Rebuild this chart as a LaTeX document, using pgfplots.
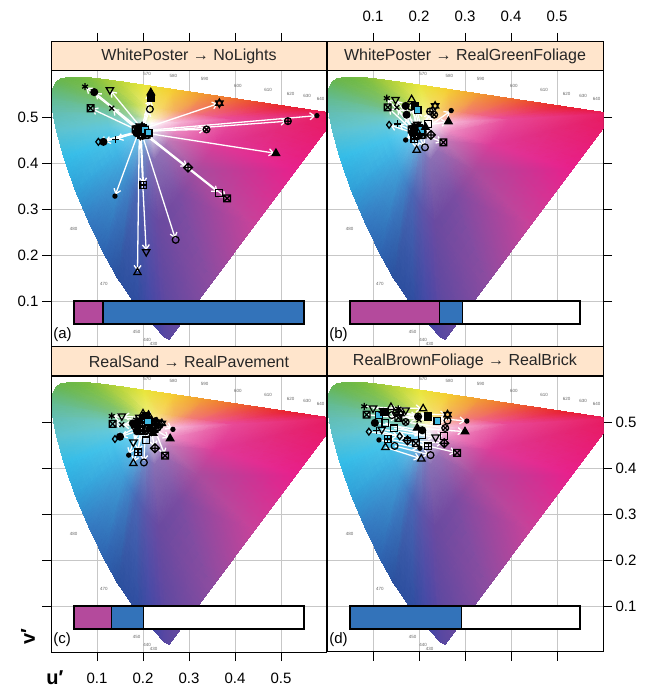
\documentclass[border=0pt]{standalone}
\usepackage{fontspec}
\setmainfont{Liberation Sans}
\usepackage{pgfplots}
\pgfplotsset{compat=1.18}
\usepackage{pgfplotstable}
\usetikzlibrary{arrows.meta}

\definecolor{stripc}{HTML}{FFE5CC}
\definecolor{barmag}{HTML}{B44A9C}
\definecolor{barblue}{HTML}{3373BA}
\definecolor{cyanfill}{HTML}{3FB8E0}
% boundary colours
\definecolor{B380}{HTML}{5A48A0}\definecolor{B430}{HTML}{5546A2}\definecolor{B440}{HTML}{4A45A3}
\definecolor{B450}{HTML}{3F47A5}\definecolor{B460}{HTML}{2E4C9F}\definecolor{B470}{HTML}{2B509E}
\definecolor{B475}{HTML}{2E63B0}\definecolor{B480}{HTML}{3478C0}\definecolor{B485}{HTML}{30A0D8}
\definecolor{B490}{HTML}{33BCE8}\definecolor{B495}{HTML}{5CC2D0}\definecolor{B500}{HTML}{63BDB0}
\definecolor{B505}{HTML}{62BA8E}\definecolor{B510}{HTML}{64B86E}\definecolor{B515}{HTML}{66B655}
\definecolor{B520}{HTML}{6AB64A}\definecolor{B530}{HTML}{6CB844}\definecolor{B540}{HTML}{78BC40}
\definecolor{B550}{HTML}{96C63C}\definecolor{B560}{HTML}{BCD63A}\definecolor{B570}{HTML}{E8E63A}
\definecolor{B580}{HTML}{F5CF30}\definecolor{B590}{HTML}{F29A30}\definecolor{B600}{HTML}{EE6A2E}
\definecolor{B610}{HTML}{EA3A2E}\definecolor{B620}{HTML}{E8202E}\definecolor{B630}{HTML}{E81C3C}
\definecolor{B640}{HTML}{E81A4C}\definecolor{B700}{HTML}{E81A5E}\definecolor{Bp1}{HTML}{E8208C}
\definecolor{Bp2}{HTML}{C8429A}\definecolor{Bp3}{HTML}{8C4CA0}
% mid ring colours
\definecolor{M380}{HTML}{6A4AA0}\definecolor{M430}{HTML}{684AA2}\definecolor{M440}{HTML}{664CA4}
\definecolor{M450}{HTML}{6250A6}\definecolor{M460}{HTML}{5A56AA}\definecolor{M470}{HTML}{4A66B4}
\definecolor{M475}{HTML}{4282C6}\definecolor{M480}{HTML}{40A0D8}\definecolor{M485}{HTML}{40B4E4}
\definecolor{M490}{HTML}{48C4EA}\definecolor{M495}{HTML}{60C8DC}\definecolor{M500}{HTML}{6CC8C4}
\definecolor{M505}{HTML}{70C4A4}\definecolor{M510}{HTML}{74C088}\definecolor{M515}{HTML}{78C078}
\definecolor{M520}{HTML}{7CC270}\definecolor{M530}{HTML}{84C468}\definecolor{M540}{HTML}{94CA60}
\definecolor{M550}{HTML}{A8D25C}\definecolor{M560}{HTML}{C8DE5C}\definecolor{M570}{HTML}{EEEC70}
\definecolor{M580}{HTML}{F6D868}\definecolor{M590}{HTML}{F4B060}\definecolor{M600}{HTML}{F28070}
\definecolor{M610}{HTML}{F06880}\definecolor{M620}{HTML}{EE5C8C}\definecolor{M630}{HTML}{EC5090}
\definecolor{M640}{HTML}{EA4A94}\definecolor{M700}{HTML}{E84896}\definecolor{Mp1}{HTML}{DE3A98}
\definecolor{Mp2}{HTML}{A84C9E}\definecolor{Mp3}{HTML}{7A4CA2}
% inner ring colours
\colorlet{I380}{M380!80!white}\colorlet{I430}{M430!80!white}\colorlet{I440}{M440!80!white}
\colorlet{I450}{M450!80!white}\colorlet{I460}{M460!80!white}\colorlet{I470}{M470!75!white}
\colorlet{I475}{M475!75!white}\colorlet{I480}{M480!75!white}\colorlet{I485}{M485!75!white}
\colorlet{I490}{M490!75!white}\colorlet{I495}{M495!75!white}\colorlet{I500}{M500!70!white}
\colorlet{I505}{M505!70!white}\colorlet{I510}{M510!70!white}\colorlet{I515}{M515!70!white}
\colorlet{I520}{M520!70!white}\colorlet{I530}{M530!70!white}\colorlet{I540}{M540!65!white}
\colorlet{I550}{M550!60!white}\colorlet{I560}{M560!55!white}\colorlet{I570}{M570!50!white}
\colorlet{I580}{M580!50!white}\colorlet{I590}{M590!45!white}\colorlet{I600}{M600!45!white}
\colorlet{I610}{M610!45!white}\colorlet{I620}{M620!45!white}\colorlet{I630}{M630!45!white}
\colorlet{I640}{M640!45!white}\colorlet{I700}{M700!45!white}\colorlet{Ip1}{Mp1!60!white}
\colorlet{Ip2}{Mp2!75!white}\colorlet{Ip3}{Mp3!80!white}

% custom marks
\pgfdeclareplotmark{boxx}{%
 \pgfpathrectangle{\pgfqpoint{-\pgfplotmarksize}{-\pgfplotmarksize}}{\pgfqpoint{2\pgfplotmarksize}{2\pgfplotmarksize}}%
 \pgfpathmoveto{\pgfqpoint{-\pgfplotmarksize}{-\pgfplotmarksize}}\pgfpathlineto{\pgfqpoint{\pgfplotmarksize}{\pgfplotmarksize}}%
 \pgfpathmoveto{\pgfqpoint{-\pgfplotmarksize}{\pgfplotmarksize}}\pgfpathlineto{\pgfqpoint{\pgfplotmarksize}{-\pgfplotmarksize}}%
 \pgfusepathqstroke}
\pgfdeclareplotmark{boxplus}{%
 \pgfpathrectangle{\pgfqpoint{-\pgfplotmarksize}{-\pgfplotmarksize}}{\pgfqpoint{2\pgfplotmarksize}{2\pgfplotmarksize}}%
 \pgfpathmoveto{\pgfqpoint{0pt}{-\pgfplotmarksize}}\pgfpathlineto{\pgfqpoint{0pt}{\pgfplotmarksize}}%
 \pgfpathmoveto{\pgfqpoint{-\pgfplotmarksize}{0pt}}\pgfpathlineto{\pgfqpoint{\pgfplotmarksize}{0pt}}%
 \pgfusepathqstroke}
\pgfdeclareplotmark{diamondplus}{%
 \pgfpathmoveto{\pgfqpoint{0pt}{1.3\pgfplotmarksize}}\pgfpathlineto{\pgfqpoint{1.3\pgfplotmarksize}{0pt}}%
 \pgfpathlineto{\pgfqpoint{0pt}{-1.3\pgfplotmarksize}}\pgfpathlineto{\pgfqpoint{-1.3\pgfplotmarksize}{0pt}}\pgfpathclose
 \pgfpathmoveto{\pgfqpoint{0pt}{-1.3\pgfplotmarksize}}\pgfpathlineto{\pgfqpoint{0pt}{1.3\pgfplotmarksize}}%
 \pgfpathmoveto{\pgfqpoint{-1.3\pgfplotmarksize}{0pt}}\pgfpathlineto{\pgfqpoint{1.3\pgfplotmarksize}{0pt}}%
 \pgfusepathqstroke}
\pgfdeclareplotmark{utri}{%
 \pgfpathmoveto{\pgfqpointpolar{90}{1.25\pgfplotmarksize}}\pgfpathlineto{\pgfqpointpolar{210}{1.25\pgfplotmarksize}}%
 \pgfpathlineto{\pgfqpointpolar{330}{1.25\pgfplotmarksize}}\pgfpathclose\pgfusepathqstroke}
\pgfdeclareplotmark{futri}{%
 \pgfpathmoveto{\pgfqpointpolar{90}{1.25\pgfplotmarksize}}\pgfpathlineto{\pgfqpointpolar{210}{1.25\pgfplotmarksize}}%
 \pgfpathlineto{\pgfqpointpolar{330}{1.25\pgfplotmarksize}}\pgfpathclose\pgfusepathqfillstroke}
\pgfdeclareplotmark{dtri}{%
 \pgfpathmoveto{\pgfqpointpolar{270}{1.25\pgfplotmarksize}}\pgfpathlineto{\pgfqpointpolar{30}{1.25\pgfplotmarksize}}%
 \pgfpathlineto{\pgfqpointpolar{150}{1.25\pgfplotmarksize}}\pgfpathclose\pgfusepathqstroke}
\pgfdeclareplotmark{david}{%
 \pgfpathmoveto{\pgfqpointpolar{90}{1.25\pgfplotmarksize}}\pgfpathlineto{\pgfqpointpolar{210}{1.25\pgfplotmarksize}}%
 \pgfpathlineto{\pgfqpointpolar{330}{1.25\pgfplotmarksize}}\pgfpathclose
 \pgfpathmoveto{\pgfqpointpolar{270}{1.25\pgfplotmarksize}}\pgfpathlineto{\pgfqpointpolar{30}{1.25\pgfplotmarksize}}%
 \pgfpathlineto{\pgfqpointpolar{150}{1.25\pgfplotmarksize}}\pgfpathclose\pgfusepathqstroke}

\tikzset{mk/.style={draw=black, line width=1.25pt},
 wl/.style={font=\fontsize{4.5}{5}\selectfont, text=black!60, inner sep=0pt}}

\pgfplotsset{
 mymarks/.style={scatter, only marks, scatter src=explicit symbolic, mark size=3.4pt,
  scatter/classes={
   ast={mark=asterisk, mk}, fc={mark=*, mk, fill=black}, dt={mark=dtri, mk},
   ut={mark=utri, mk}, ft={mark=futri, mk, fill=black}, fs={mark=square*, mk, fill=black},
   oc={mark=o, mk}, bx={mark=boxx, mk}, cr={mark=x, mk}, dv={mark=david, mk},
   ot={mark=otimes, mk}, op={mark=oplus, mk}, sd={mark=*, mk, fill=black, mark size=2pt},
   dp={mark=diamondplus, mk}, sq={mark=square, mk}, bp={mark=boxplus, mk},
   di={mark=diamond, mk}, pl={mark=+, mk}, cy={mark=square*, mk, fill=cyanfill}}},
 panel/.style={scale only axis, width=276pt, height=276pt, anchor=south west,
  xmin=0, xmax=0.6, ymin=0, ymax=0.6,
  xtick={0.1,0.2,0.3,0.4,0.5}, ytick={0.1,0.2,0.3,0.4,0.5},
  grid=major, grid style={draw=black!22, line width=0.7pt},
  tick align=outside, major tick length=9pt, tick style={black, line width=0.8pt},
  axis line style={line width=1pt},
  tick label style={font=\fontsize{15}{17}\selectfont},
  /pgf/number format/assume math mode=true},
 stripax/.style={scale only axis, width=276pt, height=29pt, anchor=south west,
  xmin=0, xmax=0.6, ymin=0, ymax=1, axis background/.style={fill=stripc},
  ytick=\empty, axis line style={line width=1pt},
  tick align=outside, major tick length=9pt, tick style={black, line width=0.8pt},
  tick label style={font=\fontsize{15}{17}\selectfont},
  /pgf/number format/assume math mode=true},
 barst/.style={draw=black, line width=1.1pt}
}

% spectral locus (u',v') with colours, in rings from the white point
\pgfplotstableread{
f u v c
0 0 0 color=white
0 0 0 color=white
0 0 0 color=white
0 0 0 color=white
0 0 0 color=white
0 0 0 color=white
0 0 0 color=white
0 0 0 color=white
0 0 0 color=white
0 0 0 color=white
0 0 0 color=white
0 0 0 color=white
0 0 0 color=white
0 0 0 color=white
0 0 0 color=white
0 0 0 color=white
0 0 0 color=white
0 0 0 color=white
0 0 0 color=white
0 0 0 color=white
0 0 0 color=white
0 0 0 color=white
0 0 0 color=white
0 0 0 color=white
0 0 0 color=white
0 0 0 color=white
0 0 0 color=white
0 0 0 color=white
0 0 0 color=white
0 0 0 color=white
0 0 0 color=white
0 0 0 color=white
0 0 0 color=white
0.17 0.2568 0.0166 color=I380
0.17 0.2461 0.0226 color=I430
0.17 0.2347 0.0350 color=I440
0.17 0.2161 0.0549 color=I450
0.17 0.1877 0.0871 color=I460
0.17 0.1441 0.1510 color=I470
0.17 0.1147 0.2044 color=I475
0.17 0.0828 0.2708 color=I480
0.17 0.0521 0.3427 color=I485
0.17 0.0282 0.4117 color=I490
0.17 0.0119 0.4698 color=I495
0.17 0.0035 0.5131 color=I500
0.17 0.0014 0.5432 color=I505
0.17 0.0046 0.5638 color=I510
0.17 0.0123 0.5770 color=I515
0.17 0.0231 0.5837 color=I520
0.17 0.0501 0.5868 color=I530
0.17 0.0792 0.5856 color=I540
0.17 0.1127 0.5821 color=I550
0.17 0.1531 0.5766 color=I560
0.17 0.2026 0.5694 color=I570
0.17 0.2623 0.5604 color=I580
0.17 0.3315 0.5501 color=I590
0.17 0.4035 0.5393 color=I600
0.17 0.4692 0.5296 color=I610
0.17 0.5203 0.5219 color=I620
0.17 0.5565 0.5165 color=I630
0.17 0.5830 0.5125 color=I640
0.17 0.6234 0.5065 color=I700
0.17 0.5318 0.3840 color=Ip1
0.17 0.4401 0.2616 color=Ip2
0.17 0.3485 0.1391 color=Ip3
0.17 0.2568 0.0166 color=I380
0.45 0.2568 0.0166 color=M380
0.45 0.2461 0.0226 color=M430
0.45 0.2347 0.0350 color=M440
0.45 0.2161 0.0549 color=M450
0.45 0.1877 0.0871 color=M460
0.45 0.1441 0.1510 color=M470
0.45 0.1147 0.2044 color=M475
0.45 0.0828 0.2708 color=M480
0.45 0.0521 0.3427 color=M485
0.45 0.0282 0.4117 color=M490
0.45 0.0119 0.4698 color=M495
0.45 0.0035 0.5131 color=M500
0.45 0.0014 0.5432 color=M505
0.45 0.0046 0.5638 color=M510
0.45 0.0123 0.5770 color=M515
0.45 0.0231 0.5837 color=M520
0.45 0.0501 0.5868 color=M530
0.45 0.0792 0.5856 color=M540
0.45 0.1127 0.5821 color=M550
0.45 0.1531 0.5766 color=M560
0.45 0.2026 0.5694 color=M570
0.45 0.2623 0.5604 color=M580
0.45 0.3315 0.5501 color=M590
0.45 0.4035 0.5393 color=M600
0.45 0.4692 0.5296 color=M610
0.45 0.5203 0.5219 color=M620
0.45 0.5565 0.5165 color=M630
0.45 0.5830 0.5125 color=M640
0.45 0.6234 0.5065 color=M700
0.45 0.5318 0.3840 color=Mp1
0.45 0.4401 0.2616 color=Mp2
0.45 0.3485 0.1391 color=Mp3
0.45 0.2568 0.0166 color=M380
1 0.2568 0.0166 color=B380
1 0.2461 0.0226 color=B430
1 0.2347 0.0350 color=B440
1 0.2161 0.0549 color=B450
1 0.1877 0.0871 color=B460
1 0.1441 0.1510 color=B470
1 0.1147 0.2044 color=B475
1 0.0828 0.2708 color=B480
1 0.0521 0.3427 color=B485
1 0.0282 0.4117 color=B490
1 0.0119 0.4698 color=B495
1 0.0035 0.5131 color=B500
1 0.0014 0.5432 color=B505
1 0.0046 0.5638 color=B510
1 0.0123 0.5770 color=B515
1 0.0231 0.5837 color=B520
1 0.0501 0.5868 color=B530
1 0.0792 0.5856 color=B540
1 0.1127 0.5821 color=B550
1 0.1531 0.5766 color=B560
1 0.2026 0.5694 color=B570
1 0.2623 0.5604 color=B580
1 0.3315 0.5501 color=B590
1 0.4035 0.5393 color=B600
1 0.4692 0.5296 color=B610
1 0.5203 0.5219 color=B620
1 0.5565 0.5165 color=B630
1 0.5830 0.5125 color=B640
1 0.6234 0.5065 color=B700
1 0.5318 0.3840 color=Bp1
1 0.4401 0.2616 color=Bp2
1 0.3485 0.1391 color=Bp3
1 0.2568 0.0166 color=B380
}\cie

\pgfplotstableread{
x0 y0 x1 y1 m
0.186 0.478 0.074 0.566 ast
0.190 0.476 0.094 0.554 fc
0.193 0.480 0.128 0.559 dt
0.198 0.479 0.217 0.553 ft
0.200 0.477 0.217 0.541 fs
0.199 0.474 0.215 0.517 oc
0.184 0.473 0.086 0.519 bx
0.188 0.472 0.132 0.519 cr
0.203 0.475 0.366 0.530 dv
0.205 0.470 0.338 0.473 ot
0.207 0.468 0.515 0.491 op
0.209 0.471 0.578 0.503 sd
0.206 0.465 0.489 0.421 ft
0.202 0.463 0.298 0.390 dp
0.205 0.461 0.365 0.335 sq
0.208 0.462 0.383 0.323 bx
0.196 0.462 0.201 0.352 bp
0.189 0.464 0.139 0.328 sd
0.199 0.459 0.271 0.233 oc
0.194 0.460 0.207 0.207 dt
0.192 0.466 0.188 0.162 ut
0.183 0.467 0.103 0.446 di
0.186 0.465 0.114 0.446 fc
0.188 0.469 0.141 0.451 pl
0.204 0.472 0.212 0.466 cy
}\tabA

\pgfplotstableread{
x0 y0 x1 y1 m
0.186 0.478 0.130 0.541 ast
0.190 0.476 0.171 0.524 fc
0.193 0.480 0.149 0.538 dt
0.198 0.479 0.264 0.490 ft
0.200 0.477 0.191 0.524 fs
0.199 0.474 0.183 0.522 oc
0.184 0.473 0.132 0.521 bx
0.188 0.472 0.152 0.521 cr
0.203 0.475 0.235 0.524 dv
0.205 0.470 0.233 0.505 ot
0.207 0.468 0.224 0.512 op
0.209 0.471 0.270 0.514 sd
0.206 0.465 0.214 0.478 ft
0.202 0.463 0.226 0.461 dp
0.205 0.461 0.220 0.485 sq
0.208 0.462 0.253 0.445 bx
0.196 0.462 0.190 0.452 bp
0.189 0.464 0.171 0.450 sd
0.199 0.459 0.213 0.434 oc
0.194 0.460 0.196 0.484 dt
0.192 0.466 0.195 0.428 ut
0.183 0.467 0.135 0.483 di
0.186 0.465 0.173 0.505 fc
0.188 0.469 0.154 0.485 pl
0.204 0.472 0.197 0.515 cy
0.195 0.470 0.184 0.538 ut
}\tabB

\pgfplotstableread{
x0 y0 x1 y1 m
0.185 0.505 0.132 0.513 ast
0.190 0.500 0.178 0.497 fc
0.192 0.510 0.154 0.513 dt
0.215 0.490 0.259 0.464 ft
0.200 0.505 0.206 0.513 fs
0.205 0.498 0.214 0.505 oc
0.183 0.495 0.134 0.496 bx
0.188 0.492 0.154 0.494 cr
0.230 0.500 0.241 0.497 dv
0.222 0.493 0.232 0.488 ot
0.235 0.495 0.226 0.501 op
0.228 0.505 0.265 0.484 sd
0.212 0.483 0.222 0.476 ft
0.218 0.480 0.226 0.443 dp
0.210 0.487 0.206 0.460 sq
0.225 0.485 0.248 0.427 bx
0.195 0.482 0.189 0.434 bp
0.190 0.485 0.169 0.428 sd
0.205 0.480 0.202 0.412 oc
0.198 0.488 0.179 0.456 dt
0.200 0.478 0.179 0.410 ut
0.182 0.487 0.139 0.463 di
0.187 0.480 0.150 0.468 fc
0.195 0.496 0.188 0.490 pl
0.205 0.508 0.211 0.501 cy
0.212 0.515 0.200 0.518 ut
}\tabC

\pgfplotstableread{
x0 y0 x1 y1 m
0.081 0.534 0.155 0.529 ast
0.100 0.530 0.171 0.526 dt
0.139 0.532 0.209 0.529 ut
0.086 0.516 0.155 0.509 bx
0.113 0.515 0.240 0.502 cy
0.125 0.522 0.220 0.512 fs
0.141 0.515 0.262 0.503 oc
0.198 0.512 0.304 0.502 sd
0.160 0.518 0.262 0.516 dv
0.104 0.498 0.207 0.482 fc
0.127 0.498 0.207 0.472 sq
0.171 0.500 0.257 0.487 ot
0.091 0.479 0.158 0.469 di
0.108 0.482 0.175 0.465 pl
0.119 0.484 0.236 0.467 dt
0.146 0.486 0.254 0.469 sq
0.196 0.487 0.300 0.479 ft
0.113 0.461 0.202 0.443 sd
0.132 0.463 0.220 0.447 bp
0.193 0.454 0.283 0.433 bx
0.175 0.460 0.255 0.454 dp
0.127 0.445 0.205 0.420 ut
0.147 0.448 0.225 0.428 oc
0.150 0.520 0.198 0.512 op
0.118 0.525 0.200 0.505 cr
}\tabD

\newcommand\bg{%
 \addplot[surf, shader=interp, mesh/color input=explicit, point meta=explicit symbolic, mesh/cols=33]
   table[x expr=0.218+\thisrow{f}*(\thisrow{u}-0.218), y expr=0.485+\thisrow{f}*(\thisrow{v}-0.485), meta=c] {\cie};
 \node[wl] at (axis cs:0.209,0.594) {570};
 \node[wl] at (axis cs:0.266,0.590) {580};
 \node[wl] at (axis cs:0.334,0.583) {590};
 \node[wl] at (axis cs:0.406,0.567) {600};
 \node[wl] at (axis cs:0.472,0.559) {610};
 \node[wl] at (axis cs:0.521,0.551) {620};
 \node[wl] at (axis cs:0.557,0.546) {630};
 \node[wl] at (axis cs:0.586,0.540) {640};
 \node[wl] at (axis cs:0.049,0.256) {480};
 \node[wl] at (axis cs:0.115,0.137) {470};
 \node[wl] at (axis cs:0.186,0.033) {450};
 \node[wl] at (axis cs:0.209,0.015) {440};
 \node[wl] at (axis cs:0.223,0.007) {430};
}
\newcommand\arrmk[1]{%
 \addplot[white, line width=1.3pt, -{Straight Barb[length=4.5pt,width=7pt]},
   quiver={u=\thisrow{x1}-\thisrow{x0}, v=\thisrow{y1}-\thisrow{y0},
   every arrow/.append style={shorten >=1.5pt}}] table[x=x0, y=y0] {#1};
 \addplot[mymarks] table[x=x0, y=y0, meta=m] {#1};
 \addplot[mymarks] table[x=x1, y=y1, meta=m] {#1};
}
\newcommand\frameit{\draw[line width=1pt] (rel axis cs:0,0) rectangle (rel axis cs:1,1);}
\newcommand\plab[1]{\node[anchor=base west, inner sep=0pt, font=\fontsize{15}{17}\selectfont] at (rel axis cs:0.008,0.03) {#1};}
\newcommand\stitle[1]{\node[font=\fontsize{16}{18}\selectfont, text=black!85] at (rel axis cs:0.5,0.5) {#1};}

\begin{document}
\begin{tikzpicture}
\path[use as bounding box] (0,0) rectangle (646pt,688pt);

% ---------- panel (a)
\begin{axis}[panel, at={(51pt,341pt)}, xtick style={draw=none}, xticklabels={}, ytick pos=left]
 \bg
 \addplot[barst, fill=barmag] coordinates {(0.05,0.05) (0.113,0.05) (0.113,0.1) (0.05,0.1)} -- cycle;
 \addplot[barst, fill=barblue] coordinates {(0.113,0.05) (0.55,0.05) (0.55,0.1) (0.113,0.1)} -- cycle;
 \arrmk{\tabA}
 \plab{(a)}
 \frameit
\end{axis}
\begin{axis}[stripax, at={(51pt,617pt)}, xtick={0.1,0.2,0.3,0.4,0.5}, xtick pos=right, xticklabels={}]
 \stitle{WhitePoster → NoLights}
\end{axis}

% ---------- panel (b)
\begin{axis}[panel, at={(327pt,341pt)}, xtick style={draw=none}, xticklabels={}, ytick pos=right, yticklabels={}]
 \bg
 \addplot[barst, fill=barmag] coordinates {(0.05,0.05) (0.245,0.05) (0.245,0.1) (0.05,0.1)} -- cycle;
 \addplot[barst, fill=barblue] coordinates {(0.245,0.05) (0.294,0.05) (0.294,0.1) (0.245,0.1)} -- cycle;
 \addplot[barst, fill=white] coordinates {(0.294,0.05) (0.55,0.05) (0.55,0.1) (0.294,0.1)} -- cycle;
 \arrmk{\tabB}
 \plab{(b)}
 \frameit
\end{axis}
\begin{axis}[stripax, at={(327pt,617pt)}, xtick={0.1,0.2,0.3,0.4,0.5}, xtick pos=right, xticklabel pos=right,
  xticklabel style={yshift=8pt}]
 \stitle{WhitePoster → RealGreenFoliage}
\end{axis}

% ---------- panel (c)
\begin{axis}[panel, at={(51pt,36pt)}, xtick pos=left, xticklabel style={yshift=-8pt}, ytick pos=left, yticklabels={}]
 \bg
 \addplot[barst, fill=barmag] coordinates {(0.05,0.05) (0.132,0.05) (0.132,0.1) (0.05,0.1)} -- cycle;
 \addplot[barst, fill=barblue] coordinates {(0.132,0.05) (0.202,0.05) (0.202,0.1) (0.132,0.1)} -- cycle;
 \addplot[barst, fill=white] coordinates {(0.202,0.05) (0.55,0.05) (0.55,0.1) (0.202,0.1)} -- cycle;
 \arrmk{\tabC}
 \plab{(c)}
 \frameit
\end{axis}
\begin{axis}[stripax, at={(51pt,312pt)}, xtick=\empty]
 \stitle{RealSand → RealPavement}
\end{axis}

% ---------- panel (d)
\begin{axis}[panel, at={(327pt,36pt)}, xtick pos=left, xticklabels={}, ytick pos=right, yticklabel pos=right]
 \bg
 \addplot[barst, fill=barblue] coordinates {(0.05,0.05) (0.293,0.05) (0.293,0.1) (0.05,0.1)} -- cycle;
 \addplot[barst, fill=white] coordinates {(0.293,0.05) (0.55,0.05) (0.55,0.1) (0.293,0.1)} -- cycle;
 \arrmk{\tabD}
 \plab{(d)}
 \frameit
\end{axis}
\begin{axis}[stripax, at={(327pt,312pt)}, xtick=\empty]
 \stitle{RealBrownFoliage → RealBrick}
\end{axis}

\node[font=\fontsize{20}{22}\selectfont\bfseries] at (55pt,10pt) {u′};
\node[font=\fontsize{20}{22}\selectfont\bfseries, rotate=90] at (28pt,51pt) {v′};
\end{tikzpicture}
\end{document}
